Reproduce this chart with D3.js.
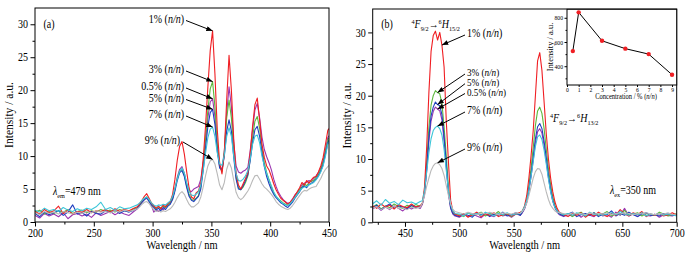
<!DOCTYPE html>
<html lang="en">
<head>
<meta charset="UTF-8">
<title>Emission spectra</title>
<script src="https://cdn.jsdelivr.net/npm/d3@7/dist/d3.min.js"></script>
<style>
  body{margin:0;background:#fff;}
  svg{display:block;font-family:"Liberation Serif","Times New Roman",serif;}
  .frame{fill:none;stroke:#000;stroke-width:1;}
  .axis path{display:none;}
  .axis line{stroke:#000;stroke-width:1;}
  .axis text{font-size:11.5px;fill:#000;font-family:"Liberation Serif",serif;}
  .inset .axis text{font-size:6.5px;}
  .spec{fill:none;stroke-width:1.1;stroke-linejoin:round;}
</style>
</head>
<body>
<div class="app"></div>
<script>
// ---- data ----
// panel (a): excitation spectra, lambda_em = 479 nm
var waveA = [200,204,208,212,216,220,224,228,232,236,240,244,248,252,256,260,264,268,272,276,280,284,
  287,
  289,291,293,295,297,299,301,303,305,307,
  309,311,313,315,317,319,321,323,325,327,
  329,331,333,335,337,339,341,343,345,347,
  349,351,353,355,357,359,361,363,365,367,
  369,371,373,375,377,379,381,383,385,387,
  389,391,393,395,397,399,401,403,405,407,
  409,411,413,415,417,419,421,423,425,427,
  429,431,433,435,437,439,441,443,445,447,
  449,450];

var a05 = [1.0,0.6,1.3,0.9,1.2,0.8,1.4,0.5,1.1,1.3,0.9,1.2,0.7,1.4,1.0,1.3,1.6,1.1,1.5,1.2,1.0,1.6,
  2.0,
  2.5,3.0,3.4,3.6,3.2,2.5,1.5,1.9,1.6,2.1,
  1.8,2.4,2.7,2.9,3.6,5.0,6.8,8.0,8.4,7.4,
  5.8,4.8,4.6,5.0,5.2,5.4,6.5,9.0,12.5,15.8,
  18.2,18.7,16.0,11.5,8.4,8.0,10.8,16.5,20.5,17.5,
  12.0,8.5,7.6,7.4,7.7,7.9,8.3,10.8,14.0,17.0,
  18.0,15.8,12.9,11.0,9.9,9.0,7.9,6.5,5.4,4.5,
  3.9,3.4,3.1,2.8,3.0,3.5,4.1,4.5,5.0,5.6,
  5.9,6.0,6.3,6.1,6.6,7.0,7.5,8.2,9.3,11.0,
  12.8,13.1];
var a1 = [1.6,1.2,1.9,1.4,1.7,2.4,1.3,1.8,1.2,1.6,1.5,1.9,1.4,1.7,1.6,1.9,1.5,2.0,1.6,1.9,1.7,2.1,
  2.3,
  2.8,3.3,3.9,4.3,3.6,2.9,2.5,2.1,2.4,2.0,
  2.6,2.3,2.8,3.1,4.2,6.5,9.4,11.5,12.2,10.3,
  7.6,5.2,3.8,3.5,4.4,4.7,6.0,9.5,14.5,20.5,
  26.0,29.0,22.5,14.0,9.0,7.3,10.5,18.5,25.3,20.0,
  12.5,7.5,5.6,5.0,5.8,6.6,7.5,10.5,14.5,17.8,
  18.8,15.5,11.8,9.8,8.5,7.9,6.9,5.8,4.9,4.2,
  3.6,3.3,3.0,2.7,3.0,3.4,4.0,4.6,5.2,6.0,
  5.6,6.3,5.9,6.4,6.8,6.9,7.6,8.5,9.8,11.8,
  13.9,14.2];
var a3 = [1.5,1.8,1.2,1.6,1.3,1.7,1.5,1.9,1.3,1.6,1.8,1.4,1.7,1.5,1.9,1.6,1.8,1.5,1.9,1.7,1.6,2.0,
  2.2,
  2.6,3.1,3.5,3.8,3.3,2.7,2.3,2.0,2.3,2.1,
  2.4,2.2,2.6,2.9,3.6,5.0,6.6,7.7,8.0,7.1,
  5.4,4.2,3.4,3.3,3.6,4.0,5.4,8.5,12.6,17.0,
  20.2,21.3,17.5,11.8,8.5,7.6,10.6,15.8,18.5,15.8,
  10.8,6.8,5.2,4.9,5.3,6.0,7.0,9.6,12.8,15.3,
  16.0,14.2,11.3,9.0,7.5,6.4,5.3,4.4,3.9,3.5,
  3.2,2.9,2.7,2.5,2.8,3.2,3.8,4.3,4.9,5.3,
  5.8,5.5,6.0,6.2,6.3,6.8,7.2,8.0,9.1,10.7,
  12.4,12.8];
var a5 = [1.3,0.8,1.5,1.1,1.4,1.7,1.0,1.5,2.6,1.2,1.4,0.9,1.6,1.3,1.2,1.7,1.4,1.8,1.3,1.7,1.5,1.8,
  2.1,
  2.5,3.0,3.4,3.7,3.1,2.6,2.2,1.8,2.1,1.7,
  2.2,1.9,2.4,2.7,3.4,4.7,6.3,7.5,7.8,6.9,
  5.2,3.9,3.3,3.1,3.5,3.9,5.0,7.8,11.2,14.5,
  16.6,17.1,14.8,10.8,8.2,7.9,10.0,13.8,15.5,13.8,
  9.8,6.5,5.0,4.9,5.5,6.3,7.2,9.3,12.0,14.0,
  14.5,13.0,10.5,8.4,6.9,5.8,4.9,4.2,3.7,3.3,
  2.9,2.7,2.4,2.2,2.6,3.0,3.6,4.1,4.6,5.2,
  5.5,5.2,5.7,5.9,6.1,6.5,7.0,7.7,8.7,10.3,
  12.0,12.4];
var a7 = [1.8,1.5,2.1,1.7,1.9,1.6,2.2,1.8,1.6,2.0,1.7,2.1,1.9,2.3,3.0,1.9,2.2,1.8,2.3,2.0,2.1,2.4,
  2.6,
  2.9,3.3,3.6,3.8,3.4,2.9,2.6,2.4,2.6,2.5,
  2.7,2.6,2.9,3.2,3.9,5.1,6.5,7.7,8.2,7.4,
  5.9,4.7,4.1,4.0,4.2,4.6,5.6,7.8,10.4,12.8,
  14.1,14.4,13.0,10.5,8.8,8.6,10.2,13.0,14.3,13.0,
  10.0,7.3,6.3,6.2,6.5,7.0,7.8,9.6,11.8,13.0,
  13.2,12.0,10.0,8.5,7.4,6.4,5.5,4.6,3.9,3.5,
  3.1,2.8,2.6,2.5,2.8,3.2,3.7,4.2,4.7,5.1,
  5.3,5.4,5.6,5.8,6.0,6.4,6.9,7.6,8.5,10.0,
  11.8,12.2];
var a9 = [1.4,1.1,1.6,1.3,1.5,1.2,1.6,1.4,1.2,1.5,1.3,1.6,1.4,1.7,1.5,1.6,1.4,1.7,1.5,1.8,1.6,1.8,
  2.0,
  2.3,2.7,3.0,3.1,2.8,2.3,1.9,1.6,1.7,1.5,
  1.7,1.6,1.8,2.0,2.4,3.0,3.7,4.3,4.6,4.2,
  3.4,2.7,2.3,2.3,2.6,2.9,3.8,5.3,7.0,8.5,
  9.3,9.5,8.8,7.3,5.6,4.9,6.0,8.0,9.1,8.2,
  6.3,4.5,3.7,3.4,3.7,4.2,4.7,5.4,6.3,7.0,
  7.1,6.5,5.8,5.3,5.0,4.6,4.2,3.7,3.1,2.7,
  2.4,2.2,2.0,1.9,2.1,2.5,3.0,3.5,4.0,4.5,
  4.8,4.7,5.0,5.2,5.3,5.4,6.0,6.6,7.4,8.0,
  8.4,8.6];

// panel (b): emission spectra, lambda_ex = 350 nm
var waveB = [420,424,428,432,436,440,444,448,452,456,460,464,
  466,468,470,472,474,476,478,480,482,484,486,488,490,492,494,496,
  500,504,508,512,516,520,524,528,532,536,540,544,548,552,556,
  558,560,562,564,566,568,570,572,574,576,578,580,582,584,586,588,590,592,
  596,600,604,608,612,616,620,624,628,632,636,640,644,648,652,656,660,664,668,672,676,680,684,688,692,696,700];

var b05 = [2.1,2.5,1.9,2.4,2.0,2.6,2.2,1.8,2.4,2.1,2.5,2.2,
  2.8,4.4,8.2,12.8,16.0,17.5,18.2,17.9,17.6,16.2,12.8,8.7,4.5,2.2,1.3,1.0,
  0.8,1.2,0.9,1.4,1.0,0.7,1.3,1.1,0.9,1.4,1.0,1.2,0.8,1.3,1.1,
  1.5,2.1,3.1,4.9,7.2,9.8,12.5,14.3,14.8,14.1,12.1,9.6,7.0,4.9,3.3,2.3,1.6,1.2,
  0.9,1.2,1.0,1.4,0.8,1.3,1.1,0.9,1.5,1.0,1.2,0.8,1.6,1.1,2.2,1.0,1.3,0.9,1.4,1.1,1.0,1.3,0.8,1.2,1.1,1.0,1.3];
var b1 = [2.6,2.2,2.9,2.4,2.7,2.1,2.8,2.5,2.3,2.9,2.4,2.6,
  3.0,5.6,12.0,20.5,27.0,29.5,30.2,28.8,30.0,28.0,24.5,16.0,9.5,3.5,1.8,1.3,
  1.0,1.4,0.8,1.2,1.6,0.9,1.3,1.1,1.5,0.9,1.2,1.4,1.0,1.3,1.6,
  1.8,2.6,4.2,7.0,10.5,14.5,20.0,25.5,26.8,24.0,19.0,14.0,10.0,7.0,4.8,3.2,2.2,1.6,
  1.2,0.9,1.4,1.1,1.5,0.8,1.3,1.0,1.6,1.2,0.9,1.4,1.1,2.0,1.3,1.0,1.5,1.2,1.7,0.9,1.3,1.1,1.4,1.0,1.2,1.5,1.1];
var b3 = [2.4,2.8,2.1,2.6,2.3,2.9,2.5,2.2,2.7,2.4,2.8,2.5,
  3.0,5.0,9.5,15.0,18.5,20.0,20.8,20.5,20.3,18.8,15.0,10.5,5.5,2.5,1.5,1.2,
  1.2,0.9,1.5,1.1,1.3,1.6,1.0,1.4,1.2,1.7,1.1,1.3,0.9,1.4,1.2,
  1.7,2.4,3.6,5.8,8.6,11.8,15.3,17.6,18.2,17.2,14.8,11.5,8.5,6.0,4.0,2.7,1.9,1.4,
  1.1,1.4,0.9,1.3,1.6,1.0,1.2,1.5,1.1,1.3,1.7,1.0,1.4,1.2,1.9,1.1,1.3,1.5,1.0,1.4,1.2,1.1,1.6,1.3,1.0,1.2,1.4];
var b5 = [2.3,2.7,2.0,2.5,2.9,2.2,2.6,2.4,2.1,2.7,2.3,2.6,
  2.9,4.6,8.6,13.5,16.8,18.2,19.0,18.6,18.4,17.0,13.5,9.2,4.8,2.3,1.4,1.1,
  0.9,1.3,1.1,0.8,1.5,1.2,1.4,0.9,1.3,1.1,1.6,1.0,1.2,1.5,1.1,
  1.6,2.2,3.3,5.2,7.6,10.3,13.2,15.1,15.6,14.8,12.8,10.2,7.4,5.2,3.5,2.4,1.7,1.3,
  1.0,1.3,1.6,0.9,1.2,1.4,1.1,1.5,0.9,1.3,1.2,1.8,1.0,1.4,1.1,1.6,1.2,0.9,1.3,1.5,1.1,1.2,1.0,1.4,1.3,1.1,1.2];
var b7 = [2.9,3.4,2.7,3.6,3.0,3.3,2.8,3.5,3.1,3.2,2.9,3.3,
  3.4,5.0,8.0,11.0,13.2,14.5,15.0,15.2,14.8,13.8,11.5,8.2,5.0,2.8,1.8,1.4,
  1.3,1.0,1.5,1.2,1.4,1.1,1.6,1.3,1.0,1.4,1.2,1.5,1.1,1.3,1.4,
  1.8,2.5,3.4,5.1,7.2,9.6,12.0,13.5,13.8,13.1,11.4,9.2,6.8,4.8,3.3,2.3,1.8,1.5,
  1.2,1.4,1.1,1.5,1.3,1.0,1.6,1.2,1.4,1.1,1.3,1.5,1.2,1.7,1.3,1.1,1.4,1.2,1.5,1.0,1.3,1.2,1.4,1.1,1.3,1.2,1.0];
var b9 = [2.2,2.5,2.0,2.4,2.1,2.6,2.2,2.3,2.0,2.4,2.2,2.4,
  3.0,4.2,5.7,7.0,8.2,8.9,9.3,9.4,9.1,8.5,7.4,5.8,4.2,2.9,2.1,1.7,
  1.5,1.3,1.6,1.4,1.2,1.5,1.3,1.6,1.4,1.2,1.5,1.4,1.3,1.5,1.4,
  1.7,2.2,3.0,4.2,5.6,7.0,8.0,8.5,8.4,7.6,6.2,4.8,3.6,2.7,2.2,1.8,1.6,1.5,
  1.4,1.2,1.5,1.3,1.4,1.2,1.5,1.3,1.4,1.3,1.5,1.2,1.4,1.3,1.5,1.4,1.2,1.4,1.3,1.5,1.3,1.2,1.4,1.3,1.5,1.2,1.3];

// inset: integrated intensity vs concentration
var concentration = [0.5, 1, 3, 5, 7, 9];
var insetIntensity = [525, 845, 610, 545, 500, 330];
var concLabels = ['0.5%', '1%', '3%', '5%', '7%', '9%'];
var seriesColors = ['#9b35b0', '#f01e23', '#5cb83c', '#1f3fbf', '#3cc6d8', '#b9b9b9'];

// ---- drawing ----
var SQ = 0.87; // horizontal squash of the figure's lettering
var width = 696, height = 254;
var svg = d3.select('.app').append('svg').attr('width', width).attr('height', height);

svg.append('defs').append('marker')
  .attr('id', 'arr').attr('viewBox', '0 0 10 8').attr('refX', 10).attr('refY', 4)
  .attr('markerWidth', 7).attr('markerHeight', 5).attr('markerUnits', 'userSpaceOnUse')
  .attr('orient', 'auto')
  .append('path').attr('d', 'M0,0L10,4L0,8z').attr('fill', '#000');

// rich text: parts = [[str, kind]] kind: n | i | sub | sup
function rich(g, x, y, parts, size, anchor) {
  var t = g.append('text').attr('x', x).attr('y', y).attr('font-size', size)
    .attr('text-anchor', anchor || 'start');
  var shift = 0;
  parts.forEach(function (p) {
    var target = p[1] === 'sub' ? size * 0.3 : p[1] === 'sup' ? -size * 0.38 : 0;
    var ts = t.append('tspan').attr('dy', target - shift).text(p[0]);
    shift = target;
    if (p[1] === 'i') ts.attr('font-style', 'italic');
    if (p[1] === 'sub' || p[1] === 'sup') ts.attr('font-size', size * 0.62);
  });
  return t;
}
function concParts(k) { return [[k + ' (', 'n'], ['n/n', 'i'], [')', 'n']]; }

var drawOrder = [0, 2, 3, 1, 4, 5];

var panels = [
  { id: 'a', wave: waveA, series: [a05, a1, a3, a5, a7, a9],
    left: 35, right: 329, top: 8, bottom: 222, xDom: [200, 450], yMax: 32.47,
    xMajor: d3.range(200, 451, 50), xMinor: d3.range(225, 451, 50) },
  { id: 'b', wave: waveB, series: [b05, b1, b3, b5, b7, b9],
    left: 372.7, right: 676.7, top: 9, bottom: 222.3, xDom: [420.3, 700], yMax: 33.7,
    xMajor: d3.range(450, 701, 50), xMinor: d3.range(425, 701, 50) }
];

panels.forEach(function (p) {
  var x = d3.scaleLinear().domain(p.xDom).range([p.left, p.right]);
  var y = d3.scaleLinear().domain([0, p.yMax]).range([p.bottom, p.top]);
  p.x = x; p.y = y;
  var g = svg.append('g');

  g.append('clipPath').attr('id', 'clip-' + p.id).append('rect')
    .attr('x', p.left).attr('y', p.top).attr('width', p.right - p.left).attr('height', p.bottom - p.top);

  var line = d3.line().x(function (d, i) { return x(p.wave[i]); }).y(function (d) { return y(d); });
  drawOrder.forEach(function (k) {
    g.append('path').attr('class', 'spec').attr('clip-path', 'url(#clip-' + p.id + ')')
      .attr('stroke', seriesColors[k])
      .attr('stroke-width', k === 5 ? 1.6 : 1.1)
      .attr('d', line(p.series[k]));
  });

  // axes
  g.append('g').attr('class', 'axis').attr('transform', 'translate(0,' + p.bottom + ')')
    .call(d3.axisBottom(x).tickValues(p.xMinor).tickSize(2.5).tickFormat(''));
  g.append('g').attr('class', 'axis').attr('transform', 'translate(0,' + p.bottom + ')')
    .call(d3.axisBottom(x).tickValues(p.xMajor).tickSize(4.5).tickPadding(2.5));
  g.append('g').attr('class', 'axis').attr('transform', 'translate(' + p.left + ',0)')
    .call(d3.axisLeft(y).tickValues(d3.range(2.5, 31, 5)).tickSize(2.5).tickFormat(''));
  g.append('g').attr('class', 'axis').attr('transform', 'translate(' + p.left + ',0)')
    .call(d3.axisLeft(y).tickValues(d3.range(0, 31, 5)).tickSize(4.5).tickPadding(2.5));

  g.append('rect').attr('class', 'frame')
    .attr('x', p.left).attr('y', p.top).attr('width', p.right - p.left).attr('height', p.bottom - p.top);

  g.append('text').attr('x', (p.left + p.right) / 2).attr('y', 249).attr('text-anchor', 'middle')
    .attr('font-size', 12).text('Wavelength / nm');
  g.append('text').attr('class', 'rot')
    .attr('transform', 'translate(' + (p.left - 22) + ',' + ((p.top + p.bottom) / 2) + ') rotate(-90)')
    .attr('text-anchor', 'middle').attr('font-size', 11.5).text('Intensity / a.u.');
  g.append('text').attr('x', p.left + 8.5).attr('y', 28).attr('font-size', 11.5).text('(' + p.id + ')');
});

// annotations with arrows pointing at the curves
function annotate(p, k, wave, tx, ty, anchor, x1, y1, size) {
  var i = p.wave.indexOf(wave);
  var g = svg.append('g');
  rich(g, tx, ty, concParts(concLabels[k]), size || 11.5, anchor);
  g.append('line').attr('x1', x1).attr('y1', y1)
    .attr('x2', p.x(wave)).attr('y2', p.y(p.series[k][i]))
    .attr('stroke', '#000').attr('stroke-width', 1).attr('marker-end', 'url(#arr)');
}
var pa = panels[0], pb = panels[1];
annotate(pa, 1, 351, 184, 23, 'end', 186, 20.5);
annotate(pa, 2, 351, 184, 73.3, 'end', 186, 71);
annotate(pa, 0, 351, 184, 90, 'end', 186, 88);
annotate(pa, 3, 351, 184, 101.7, 'end', 186, 99.5);
annotate(pa, 4, 351, 184, 118.3, 'end', 186, 116);
annotate(pa, 5, 351, 180, 144, 'end', 183, 142);

annotate(pb, 1, 484, 467, 37.5, 'start', 465, 35);
annotate(pb, 2, 480, 467, 76.5, 'start', 465, 74, 10.5);
annotate(pb, 3, 480, 467, 86.2, 'start', 465, 83.7, 10.5);
annotate(pb, 0, 480, 467, 95.9, 'start', 465, 93.5, 10.5);
annotate(pb, 4, 480, 467, 114, 'start', 465, 112);
annotate(pb, 5, 480, 467, 150.7, 'start', 465, 149);

rich(svg, 53, 195, [['λ', 'i'], ['em', 'sub'], ['=479 nm', 'n']], 11.5);
rich(svg, 610, 194, [['λ', 'i'], ['ex', 'sub'], ['=350 nm', 'n']], 11.5);
rich(svg, 411.5, 28, [['4', 'sup'], ['F', 'i'], ['9/2', 'sub'], ['→', 'n'], ['6', 'sup'], ['H', 'i'], ['15/2', 'sub']], 11.5);
rich(svg, 550, 122, [['4', 'sup'], ['F', 'i'], ['9/2', 'sub'], ['→', 'n'], ['6', 'sup'], ['H', 'i'], ['13/2', 'sub']], 11.5);

// inset
var inset = svg.append('g').attr('class', 'inset');
var ix = d3.scaleLinear().domain([0, 9.4]).range([567, 676.7]);
var iy = d3.scaleLinear().domain([245, 870]).range([85, 9.3]);
inset.append('rect').attr('x', 567).attr('y', 9.3).attr('width', 676.7 - 567).attr('height', 85 - 9.3)
  .attr('fill', '#fff');
inset.append('g').attr('class', 'axis').attr('transform', 'translate(0,85)')
  .call(d3.axisBottom(ix).tickValues(d3.range(0, 10, 1)).tickSize(2).tickPadding(0.5));
inset.append('g').attr('class', 'axis').attr('transform', 'translate(567,0)')
  .call(d3.axisLeft(iy).tickValues([300, 500, 700]).tickSize(1.5).tickFormat(''));
inset.append('g').attr('class', 'axis').attr('transform', 'translate(567,0)')
  .call(d3.axisLeft(iy).tickValues([400, 600, 800]).tickSize(2.5).tickPadding(1.5));
inset.append('rect').attr('class', 'frame').attr('x', 567).attr('y', 9.3)
  .attr('width', 676.7 - 567).attr('height', 85 - 9.3);
inset.append('path').attr('fill', 'none').attr('stroke', '#000').attr('stroke-width', 1)
  .attr('d', d3.line().x(function (d, i) { return ix(concentration[i]); }).y(function (d) { return iy(d); })(insetIntensity));
inset.selectAll('circle.pt').data(insetIntensity).enter().append('circle').attr('class', 'pt')
  .attr('cx', function (d, i) { return ix(concentration[i]); }).attr('cy', function (d) { return iy(d); })
  .attr('r', 2.2).attr('fill', '#f01e23');
rich(inset, 626, 99.5, [['Concentration / % (', 'n'], ['n/n', 'i'], [')', 'n']], 7.5, 'middle');
inset.append('text').attr('class', 'rot').attr('transform', 'translate(553,47) rotate(-90)')
  .attr('text-anchor', 'middle').attr('font-size', 8.5).text('Intensity / a.u.');

// squash lettering horizontally like the source figure (scale about each text's anchor x)
svg.selectAll('text').each(function () {
  if (this.classList.contains('rot')) return;
  var x0 = +this.getAttribute('x') || 0;
  this.setAttribute('transform', 'translate(' + (x0 * (1 - SQ)).toFixed(2) + ',0) scale(' + SQ + ',1)');
});
</script>
</body>
</html>
